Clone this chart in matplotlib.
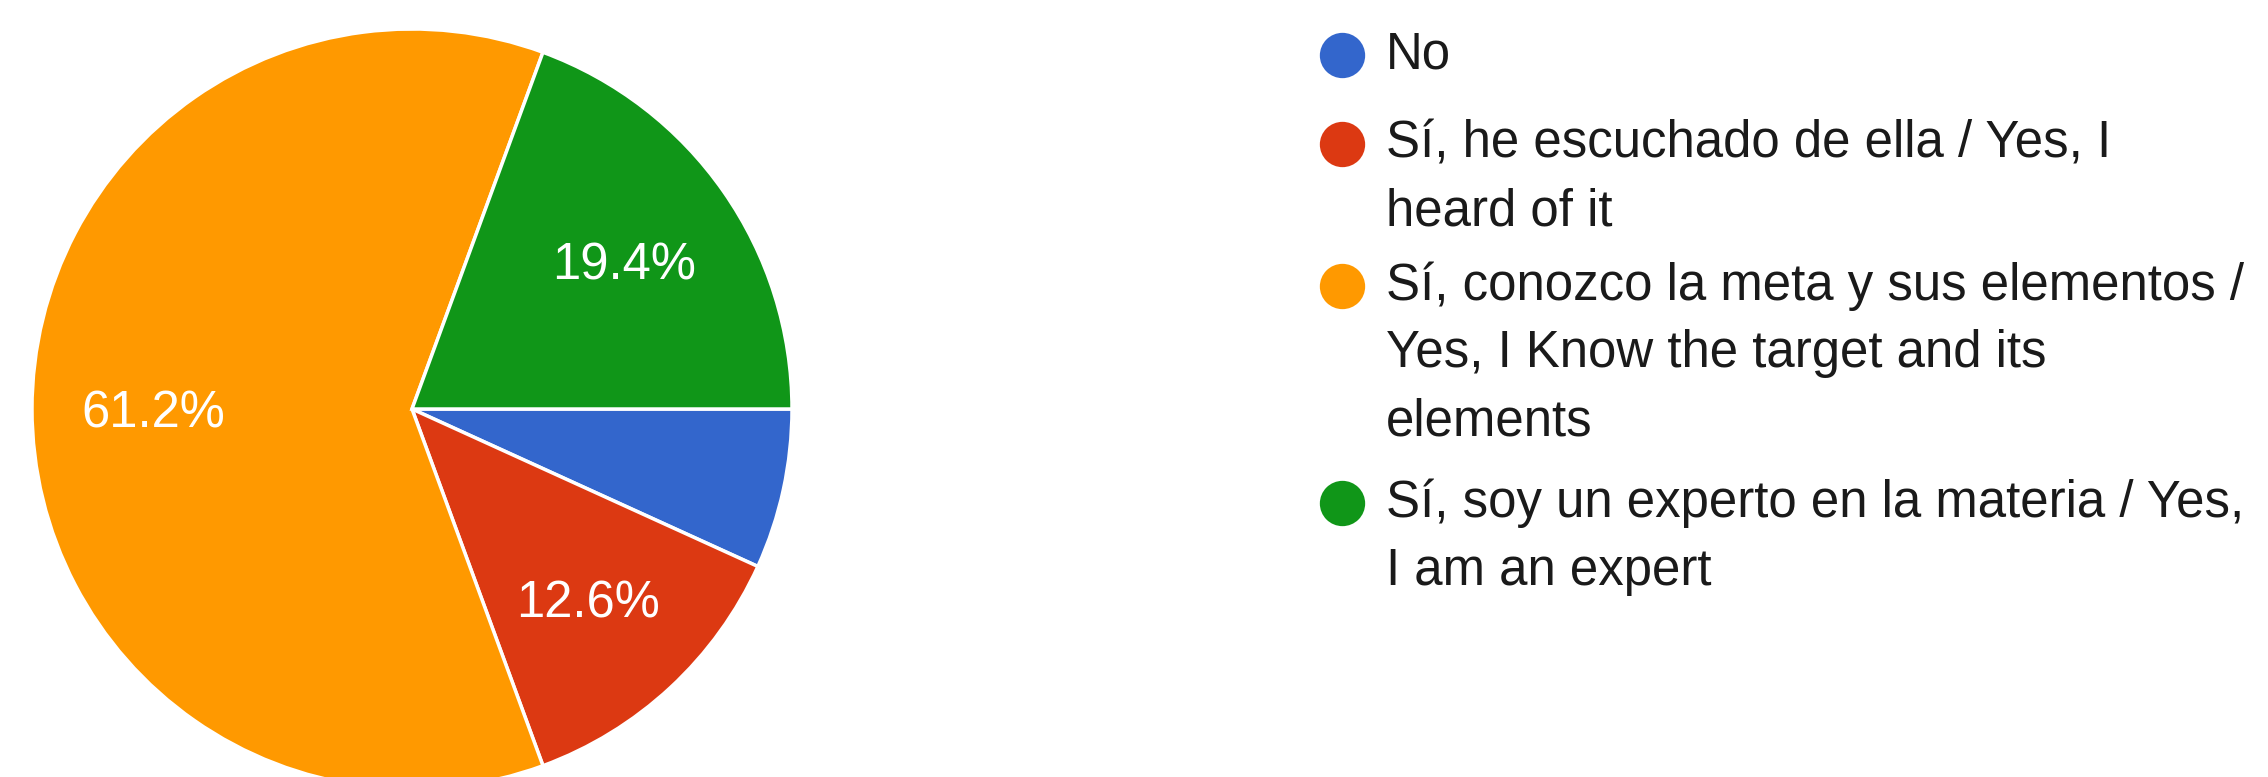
import matplotlib.pyplot as plt

# datos de la encuesta
labels = ["No",
          "Sí, he escuchado de ella / Yes, I\nheard of it",
          "Sí, conozco la meta y sus elementos /\nYes, I Know the target and its\nelements",
          "Sí, soy un experto en la materia / Yes,\nI am an expert"]
values = [6.8, 12.6, 61.2, 19.4]
colors = ["#3366cc", "#dc3912", "#ff9900", "#109618"]

W, H = 2268, 777
plt.rcParams['font.family'] = ['Liberation Sans', 'DejaVu Sans']
fig = plt.figure(figsize=(W / 100, H / 100), dpi=100)

# pie: centro (412, 409) px, radio 380 px
cx, cy, r = 412, 409, 380
ax = fig.add_axes([(cx - r) / W, (H - cy - r) / H, 2 * r / W, 2 * r / H])
wedges, texts, autotexts = ax.pie(
    values, colors=colors, startangle=0, counterclock=False,
    autopct=lambda p: '%.1f%%' % p if p > 10 else '', pctdistance=0.68,
    wedgeprops=dict(edgecolor='white', linewidth=2.5),
    textprops=dict(color='white', fontsize=36.5))
for t in autotexts:
    x, y = t.get_position()
    t.set_position((x, y - 0.014))
ax.set_xlim(-1, 1)
ax.set_ylim(-1, 1)
ax.set_aspect('equal')
ax.axis('off')

# leyenda a mano (el marcador va alineado con la primera linea)
lax = fig.add_axes([0, 0, 1, 1])
lax.set_xlim(0, W)
lax.set_ylim(H, 0)
lax.axis('off')
line_h = 68
first_y = [55, 144, 286, 503]
for lab, col, y0 in zip(labels, colors, first_y):
    lax.scatter([1342], [y0], s=44 ** 2 * 0.55, color=col, marker='o', linewidths=0)
    for k, ln in enumerate(lab.split('\n')):
        lax.text(1386, y0 + k * line_h, ln, fontsize=36.7, color='#1a1a1a',
                 va='center', ha='left')

fig.savefig('out.png', dpi=100)
